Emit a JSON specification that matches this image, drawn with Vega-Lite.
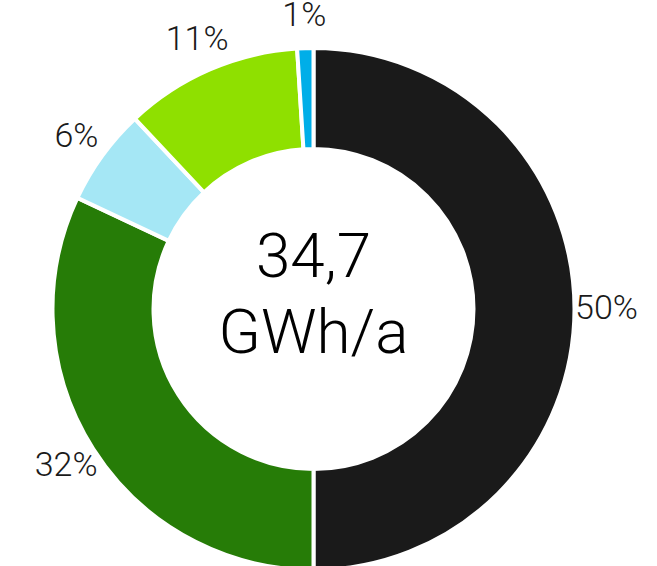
{
  "$schema": "https://vega.github.io/schema/vega-lite/v6.json",
  "width": 627,
  "height": 618,
  "autosize": {"type": "none"},
  "padding": {"left": 0, "top": 0, "right": 30, "bottom": 0},
  "background": "white",
  "config": {"view": {"stroke": null}},
  "layer": [
    {
      "data": {"values": [
        {"k": 1, "seg": "S1", "v": 50, "lbl": "50%"},
        {"k": 2, "seg": "S2", "v": 32, "lbl": "32%"},
        {"k": 3, "seg": "S3", "v": 6, "lbl": "6%"},
        {"k": 4, "seg": "S4", "v": 11, "lbl": "11%"},
        {"k": 5, "seg": "S5", "v": 1, "lbl": "1%"}
      ]},
      "encoding": {
        "theta": {"field": "v", "type": "quantitative", "stack": true},
        "order": {"field": "k", "type": "quantitative"},
        "color": {"field": "seg", "type": "nominal", "legend": null,
          "scale": {"domain": ["S1", "S2", "S3", "S4", "S5"],
                    "range": ["#1a1a1a", "#267c07", "#a5e7f5", "#8fe000", "#00aee8"]}}
      },
      "layer": [
        {"mark": {"type": "arc", "outerRadius": 261, "innerRadius": 160, "stroke": "white", "strokeWidth": 4}},
        {"mark": {"type": "text", "radius": 293, "font": "Roboto", "fontWeight": 300, "fontSize": 34, "color": "#1a1a1a"},
         "encoding": {"text": {"field": "lbl"}, "color": {"value": "#1a1a1a"}}}
      ]
    },
    {
      "data": {"values": [{"t": "34,7\nGWh/a"}]},
      "mark": {"type": "text", "font": "Roboto", "fontWeight": 300, "fontSize": 62, "lineBreak": "\n", "lineHeight": 76, "align": "center", "baseline": "middle", "dy": -51, "color": "#000000"},
      "encoding": {"text": {"field": "t"}}
    }
  ]
}
